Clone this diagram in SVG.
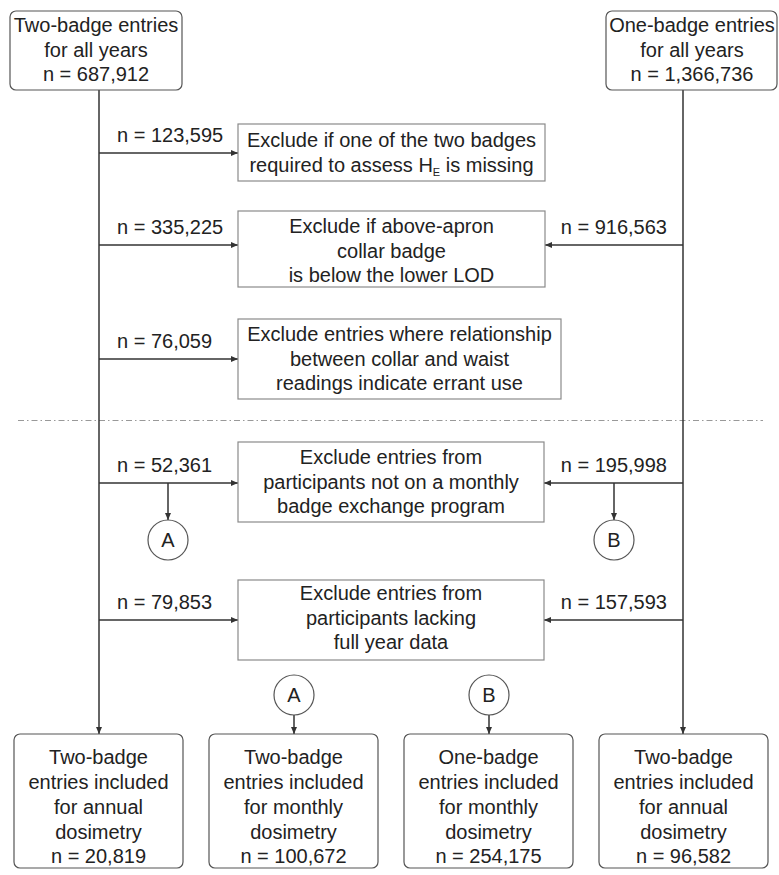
<svg xmlns="http://www.w3.org/2000/svg" width="779" height="875" viewBox="0 0 779 875">
<style>
text{font-family:"Liberation Sans",Arial,sans-serif;font-size:20px;fill:#222;}
.c{text-anchor:middle;}
.e{text-anchor:end;}
.rbox{fill:#fff;stroke:#555;stroke-width:1.2;}
.xbox{fill:#fff;stroke:#8a8a8a;stroke-width:1.2;}
.ln{fill:none;stroke:#333;stroke-width:1.5;}
.ar{fill:none;stroke:#333;stroke-width:1.5;marker-end:url(#ah);}
.circ{fill:#fff;stroke:#555;stroke-width:1.2;}
.dash{stroke:#999;stroke-width:1;stroke-dasharray:6,3,1.5,3;}
</style>
<defs>
<marker id="ah" markerUnits="userSpaceOnUse" markerWidth="7" markerHeight="6" refX="7" refY="3" orient="auto">
<path d="M0,0 L7,3 L0,6 z" fill="#333"/>
</marker>
</defs>

<line class="dash" x1="18" y1="420.5" x2="763" y2="420.5"/>

<g id="connectors">
<line class="ln" x1="99" y1="90" x2="99" y2="620"/>
<line class="ar" x1="99" y1="620" x2="99" y2="734"/>
<line class="ln" x1="683" y1="90" x2="683" y2="620"/>
<line class="ar" x1="683" y1="620" x2="683" y2="734"/>
<line class="ar" x1="99" y1="153" x2="238" y2="153"/>
<line class="ar" x1="99" y1="245" x2="238" y2="245"/>
<line class="ar" x1="683" y1="245" x2="545" y2="245"/>
<line class="ar" x1="99" y1="359" x2="238" y2="359"/>
<line class="ar" x1="99" y1="483" x2="238" y2="483"/>
<line class="ar" x1="683" y1="483" x2="544" y2="483"/>
<line class="ar" x1="168" y1="483" x2="168" y2="520"/>
<line class="ar" x1="614" y1="483" x2="614" y2="520"/>
<line class="ar" x1="99" y1="620" x2="238" y2="620"/>
<line class="ar" x1="683" y1="620" x2="544" y2="620"/>
<line class="ar" x1="294" y1="715" x2="294" y2="734"/>
<line class="ar" x1="489" y1="715" x2="489" y2="734"/>
</g>

<g id="labels">
<text x="117" y="142">n = 123,595</text>
<text x="117" y="234">n = 335,225</text>
<text class="e" x="667" y="234">n = 916,563</text>
<text x="117" y="348">n = 76,059</text>
<text x="117" y="472">n = 52,361</text>
<text class="e" x="667" y="472">n = 195,998</text>
<text x="117" y="609">n = 79,853</text>
<text class="e" x="667" y="609">n = 157,593</text>
</g>

<g id="start-two">
<rect class="rbox" x="10" y="11" width="172" height="79" rx="6"/>
<text class="c" x="96" y="32">Two-badge entries</text>
<text class="c" x="96" y="57">for all years</text>
<text class="c" x="96" y="81">n = 687,912</text>
</g>

<g id="start-one">
<rect class="rbox" x="606" y="11" width="171" height="79" rx="6"/>
<text class="c" x="692" y="32">One-badge entries</text>
<text class="c" x="692" y="57">for all years</text>
<text class="c" x="692" y="81">n = 1,366,736</text>
</g>

<g id="ex1">
<rect class="xbox" x="238" y="124" width="307" height="57"/>
<text class="c" x="391.5" y="147">Exclude if one of the two badges</text>
<text class="c" x="391.5" y="172">required to assess H<tspan font-size="11" dy="4">E</tspan><tspan dy="-4"> is missing</tspan></text>
</g>

<g id="ex2">
<rect class="xbox" x="238" y="211" width="307" height="76"/>
<text class="c" x="391.5" y="233">Exclude if above-apron</text>
<text class="c" x="391.5" y="257.5">collar badge</text>
<text class="c" x="391.5" y="282">is below the lower LOD</text>
</g>

<g id="ex3">
<rect class="xbox" x="238" y="319" width="323" height="80"/>
<text class="c" x="399.5" y="341">Exclude entries where relationship</text>
<text class="c" x="399.5" y="365.5">between collar and waist</text>
<text class="c" x="399.5" y="390">readings indicate errant use</text>
</g>

<g id="ex4">
<rect class="xbox" x="238" y="442" width="306" height="80"/>
<text class="c" x="391" y="464">Exclude entries from</text>
<text class="c" x="391" y="488.5">participants not on a monthly</text>
<text class="c" x="391" y="513">badge exchange program</text>
</g>

<g id="ex5">
<rect class="xbox" x="238" y="580" width="306" height="80"/>
<text class="c" x="391" y="600">Exclude entries from</text>
<text class="c" x="391" y="624.5">participants lacking</text>
<text class="c" x="391" y="649">full year data</text>
</g>

<g id="circA1">
<circle class="circ" cx="168" cy="540" r="20"/>
<text class="c" x="168" y="547">A</text>
</g>
<g id="circB1">
<circle class="circ" cx="614" cy="540" r="20"/>
<text class="c" x="614" y="547">B</text>
</g>
<g id="circA2">
<circle class="circ" cx="294" cy="695" r="20"/>
<text class="c" x="294" y="702">A</text>
</g>
<g id="circB2">
<circle class="circ" cx="489" cy="695" r="20"/>
<text class="c" x="489" y="702">B</text>
</g>

<g id="out1">
<rect class="rbox" x="14" y="734" width="169" height="134" rx="6"/>
<text class="c" x="98.5" y="764">Two-badge</text>
<text class="c" x="98.5" y="789">entries included</text>
<text class="c" x="98.5" y="814">for annual</text>
<text class="c" x="98.5" y="839">dosimetry</text>
<text class="c" x="98.5" y="863">n = 20,819</text>
</g>
<g id="out2">
<rect class="rbox" x="209" y="734" width="169" height="134" rx="6"/>
<text class="c" x="293.5" y="764">Two-badge</text>
<text class="c" x="293.5" y="789">entries included</text>
<text class="c" x="293.5" y="814">for monthly</text>
<text class="c" x="293.5" y="839">dosimetry</text>
<text class="c" x="293.5" y="863">n = 100,672</text>
</g>
<g id="out3">
<rect class="rbox" x="404" y="734" width="169" height="134" rx="6"/>
<text class="c" x="488.5" y="764">One-badge</text>
<text class="c" x="488.5" y="789">entries included</text>
<text class="c" x="488.5" y="814">for monthly</text>
<text class="c" x="488.5" y="839">dosimetry</text>
<text class="c" x="488.5" y="863">n = 254,175</text>
</g>
<g id="out4">
<rect class="rbox" x="599" y="734" width="169" height="134" rx="6"/>
<text class="c" x="683.5" y="764">Two-badge</text>
<text class="c" x="683.5" y="789">entries included</text>
<text class="c" x="683.5" y="814">for annual</text>
<text class="c" x="683.5" y="839">dosimetry</text>
<text class="c" x="683.5" y="863">n = 96,582</text>
</g>
</svg>
